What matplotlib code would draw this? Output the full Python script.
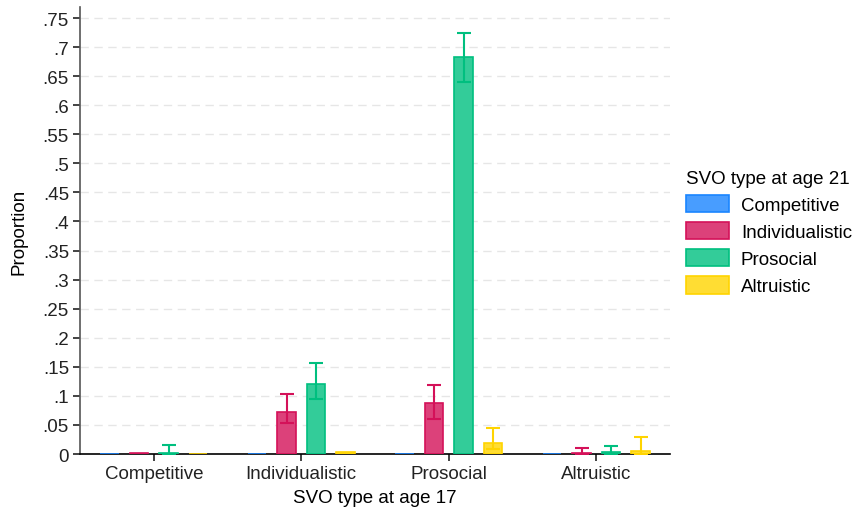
import numpy as np
import matplotlib.pyplot as plt

plt.rcParams['font.family'] = ['Liberation Sans', 'DejaVu Sans']

# SVO type at age 17 (groups) and at age 21 (series)
groups = ['Competitive', 'Individualistic', 'Prosocial', 'Altruistic']
series = ['Competitive', 'Individualistic', 'Prosocial', 'Altruistic']

# proportions, one list per age-21 type, in group order
prop_competitive = [0.0, 0.0, 0.0, 0.0]
prop_individualistic = [0.001, 0.073, 0.088, 0.001]
prop_prosocial = [0.002, 0.121, 0.683, 0.004]
prop_altruistic = [0.0, 0.004, 0.019, 0.005]

# confidence intervals (nan = none drawn)
lo_competitive = [np.nan, np.nan, np.nan, np.nan]
hi_competitive = [np.nan, np.nan, np.nan, np.nan]
lo_individualistic = [np.nan, 0.053, 0.061, 0.0]
hi_individualistic = [np.nan, 0.104, 0.119, 0.011]
lo_prosocial = [0.0, 0.095, 0.640, 0.0]
hi_prosocial = [0.016, 0.156, 0.725, 0.014]
lo_altruistic = [np.nan, np.nan, 0.009, 0.0]
hi_altruistic = [np.nan, np.nan, 0.044, 0.029]

values = [prop_competitive, prop_individualistic, prop_prosocial, prop_altruistic]
lows = [lo_competitive, lo_individualistic, lo_prosocial, lo_altruistic]
highs = [hi_competitive, hi_individualistic, hi_prosocial, hi_altruistic]

edge_colors = ['#1a85ff', '#d41159', '#00bf7f', '#ffd400']
fill_colors = ['#489dff', '#dc417a', '#33cc99', '#ffdd33']

fs = 13.5

fig = plt.figure(figsize=(8.56, 5.10), dpi=100)
ax = fig.add_axes([80 / 856, 1 - 455 / 510, 590 / 856, 447 / 510])

x = np.arange(1, len(groups) + 1)
offsets = [-0.3, -0.1, 0.1, 0.3]
width = 0.125

for i in range(len(series)):
    xs = x + offsets[i]
    ax.bar(xs, values[i], width=width, color=fill_colors[i],
           edgecolor=edge_colors[i], linewidth=1.2, label=series[i], zorder=3)
    v = np.array(values[i])
    lo = np.array(lows[i])
    hi = np.array(highs[i])
    mask = ~np.isnan(hi)
    if mask.any():
        ax.errorbar(xs[mask], v[mask], yerr=[v[mask] - lo[mask], hi[mask] - v[mask]],
                    fmt='none', ecolor=edge_colors[i], elinewidth=1.5,
                    capsize=5, capthick=1.5, zorder=4)

ax.set_xlim(0.5, 4.5)
ax.set_ylim(0, 0.769)
yt = np.round(np.arange(0, 0.76, 0.05), 2)
ax.set_yticks(yt)
ax.set_yticklabels(['0'] + [('%g' % t).lstrip('0') for t in yt[1:]])
ax.set_xticks(x)
ax.set_xticklabels(groups)
for t in yt[1:]:
    ax.axhline(t, color='#e6e6e6', linestyle=(0, (6, 4)), linewidth=1, zorder=1)

ax.tick_params(axis='both', labelsize=fs, length=5, width=1.2, colors='#222222')
ax.tick_params(axis='y', pad=3)
ax.tick_params(axis='x', pad=3)
ax.spines['top'].set_visible(False)
ax.spines['right'].set_visible(False)
ax.spines['left'].set_color('#555555')
ax.spines['left'].set_linewidth(1.2)
ax.spines['bottom'].set_linewidth(1.2)

ax.set_ylabel('Proportion', fontsize=fs, labelpad=11)
ax.set_xlabel('SVO type at age 17', fontsize=fs, labelpad=5)

leg = ax.legend(title='SVO type at age 21', loc='upper left',
                bbox_to_anchor=(682 / 856, 1 - 167 / 510), bbox_transform=fig.transFigure,
                frameon=False, fontsize=fs, title_fontsize=fs,
                handlelength=2.3, handleheight=1.07, handletextpad=0.64,
                labelspacing=0.42, alignment='left', borderaxespad=0, borderpad=0.2)

fig.savefig('out.png', dpi=100)
